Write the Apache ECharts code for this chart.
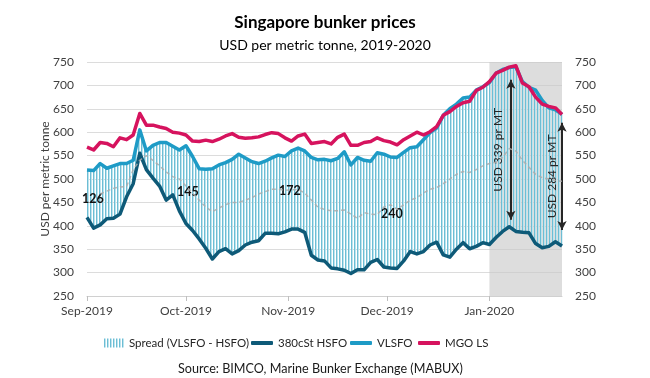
<!DOCTYPE html>
<html>
<head>
<meta charset="utf-8">
<script src="https://cdn.jsdelivr.net/npm/echarts@6/dist/echarts.min.js"></script>
<style>
html,body{margin:0;padding:0;background:#fff;}
#chart{width:650px;height:378px;}
</style>
</head>
<body>
<div id="chart"></div>
<script>
// ---- data ----
const dates = [
 '2019-09-01','2019-09-03','2019-09-05','2019-09-07','2019-09-09','2019-09-11','2019-09-13','2019-09-15','2019-09-17','2019-09-19','2019-09-21','2019-09-23','2019-09-25','2019-09-27','2019-09-29',
 '2019-10-01','2019-10-03','2019-10-05','2019-10-07','2019-10-09','2019-10-11','2019-10-13','2019-10-15','2019-10-17','2019-10-19','2019-10-21','2019-10-23','2019-10-25','2019-10-27','2019-10-29','2019-10-31',
 '2019-11-02','2019-11-04','2019-11-06','2019-11-08','2019-11-10','2019-11-12','2019-11-14','2019-11-16','2019-11-18','2019-11-20','2019-11-22','2019-11-24','2019-11-26','2019-11-28','2019-11-30',
 '2019-12-02','2019-12-04','2019-12-06','2019-12-08','2019-12-10','2019-12-12','2019-12-14','2019-12-16','2019-12-18','2019-12-20','2019-12-22','2019-12-24','2019-12-26','2019-12-28','2019-12-30',
 '2020-01-01','2020-01-03','2020-01-05','2020-01-07','2020-01-09','2020-01-11','2020-01-13','2020-01-15','2020-01-17','2020-01-19','2020-01-21','2020-01-23'
];
const hsfo = [
 418,395,402,415,416,425,462,490,555,520,502,485,455,466,432,
 405,390,372,352,329,345,351,340,347,359,365,368,384,384,383,387,
 393,393,386,337,327,325,310,308,305,298,306,306,322,328,312,
 310,309,325,345,340,345,359,365,338,333,350,364,351,356,364,
 360,375,388,398,388,386,385,362,353,356,366,357
];
const vlsfo = [
 519,518,533,523,528,533,533,540,605,560,572,578,578,570,562,
 571,548,522,521,522,530,535,542,553,545,537,533,538,545,551,548,
 560,566,560,546,541,542,539,544,558,530,546,540,538,556,553,
 547,546,557,567,569,584,599,609,636,650,660,673,675,690,697,
 706,726,734,738,740,708,696,690,668,652,648,638
];
const mgo = [
 568,562,578,576,569,588,584,594,640,615,615,611,608,600,598,
 594,581,580,583,580,585,592,597,589,587,588,590,595,599,597,588,
 581,592,596,576,578,580,575,589,596,572,572,578,580,588,582,
 579,573,584,592,600,594,601,612,636,644,655,663,666,689,696,
 708,726,732,739,742,705,697,675,660,655,652,638
];
const trendDates = dates.slice(2);
const trend = [
 468,474,480,483,484,520,540,550,540,528,515,505,500,
 485,470,455,440,430,438,445,450,450,455,460,468,473,478,478,476,
 477,478,470,455,440,435,432,432,434,425,416,428,425,424,440,
 445,435,445,455,460,470,478,482,490,500,510,516,514,520,528,
 533,536,546,565,560,540,525,510,503,500,497,495
];
const monthTickDates = ['2019-09-01','2019-10-01','2019-11-01','2019-12-01','2020-01-01'];
const monthTickLabels = ['Sep-2019','Oct-2019','Nov-2019','Dec-2019','Jan-2020'];
const spreadLabels = [126, 145, 172, 240];
const arrowLabels = [339, 284];
const yMin = 250, yMax = 750, yStep = 50;

// ---- helpers: x axis measured in days since the first date ----
const START = '2019-09-01', END = '2020-01-23';
function day(s){
  const p = s.split('-').map(Number);
  const q = START.split('-').map(Number);
  return Math.round((Date.UTC(p[0],p[1]-1,p[2]) - Date.UTC(q[0],q[1]-1,q[2]))/86400000);
}
const pair = (xs, ys) => xs.map((x,i)=>[day(x), ys[i]]);
const tickDays = monthTickDates.map(day);
const bandData = dates.map((d,i)=>[day(d), hsfo[i], vlsfo[i]]);

function makePattern(){
  const c = document.createElement('canvas');
  c.width = 3; c.height = 4;
  const ctx = c.getContext('2d');
  ctx.fillStyle = '#6dbdd4'; ctx.fillRect(0,0,1,4);
  ctx.fillStyle = '#bde4ee'; ctx.fillRect(1,0,1,4);
  return {image: c, repeat: 'repeat'};
}
const bandPattern = makePattern();
const legendPattern = makePattern();

const FONT = 'Lato';
const SPREAD = 'Spread (VLSFO - HSFO)';
const legendText = {fontFamily:FONT, fontSize:11.5, color:'#262626'};
const chart = echarts.init(document.getElementById('chart'), null, {renderer:'canvas'});
const option = {
  animation: false,
  textStyle: {fontFamily: FONT},
  title: [
    {text:'Singapore bunker prices', left:'center', top:9, textStyle:{fontFamily:FONT, fontSize:17, fontWeight:'bold', color:'#000'}},
    {text:'USD per metric tonne, 2019-2020', left:'center', top:33, textStyle:{fontFamily:FONT, fontSize:14, fontWeight:'normal', color:'#000'}},
    {text:'Source: BIMCO, Marine Bunker Exchange (MABUX)', left:173, top:357, textStyle:{fontFamily:FONT, fontSize:12.6, fontWeight:'normal', color:'#1a1a1a'}}
  ],
  legend: [
    {data:[{name:SPREAD, icon:'rect', itemStyle:{color:legendPattern}}], left:99, top:332, itemWidth:20, itemHeight:9, textStyle:legendText},
    {data:['380cSt HSFO'], icon:'roundRect', left:246, top:332, itemWidth:22, itemHeight:4, textStyle:legendText},
    {data:['VLSFO'], icon:'roundRect', left:345, top:332, itemWidth:22, itemHeight:4, textStyle:legendText},
    {data:['MGO LS'], icon:'roundRect', left:413, top:332, itemWidth:22, itemHeight:4, textStyle:legendText}
  ],
  grid: {left:87, right:88, top:62, bottom:82},
  xAxis: {
    type:'value', min: 0, max: day(END),
    axisLine:{show:true, lineStyle:{color:'#d0d0d0', width:1}},
    axisTick:{show:true, customValues: tickDays, length:5, lineStyle:{color:'#bfbfbf'}},
    axisLabel:{customValues: tickDays, fontFamily:FONT, fontSize:12, color:'#404040', margin:9,
      formatter: function(v){ const i = tickDays.indexOf(Math.round(v)); return i >= 0 ? monthTickLabels[i] : ''; }},
    splitLine:{show:false}
  },
  yAxis: [
    {type:'value', min:yMin, max:yMax, interval:yStep, position:'left',
     name:'USD per metric tonne', nameLocation:'middle', nameGap:36, nameMoveOverlap:false,
     nameTextStyle:{fontFamily:FONT, fontSize:12, color:'#404040'},
     axisLabel:{fontFamily:FONT, fontSize:12, color:'#404040', margin:13},
     axisLine:{show:false}, axisTick:{show:false},
     splitLine:{show:true, lineStyle:{color:'#dcdcdc', width:1}}},
    {type:'value', min:yMin, max:yMax, interval:yStep, position:'right',
     axisLabel:{fontFamily:FONT, fontSize:12, color:'#404040', margin:13},
     axisLine:{show:false}, axisTick:{show:false}, splitLine:{show:false}}
  ],
  series: [
    {name:SPREAD, type:'custom', data: bandData, silent:true, z:2,
     itemStyle:{color:'#8fcde0'},
     encode:{x:0, y:[1,2]},
     renderItem: function(params, api){
       const i = params.dataIndex;
       if (i >= bandData.length - 1) return null;
       const a = api.coord([api.value(0, i), api.value(2, i)]);
       const b = api.coord([api.value(0, i+1), api.value(2, i+1)]);
       const c = api.coord([api.value(0, i+1), api.value(1, i+1)]);
       const d = api.coord([api.value(0, i), api.value(1, i)]);
       const ov = 0.5;
       return {type:'polygon', shape:{points:[[a[0],a[1]],[b[0]+ov,b[1]],[c[0]+ov,c[1]],[d[0],d[1]]]}, style:{fill: bandPattern}};
     },
     markArea:{silent:true, z:0, itemStyle:{color:'rgba(200,200,200,0.62)'},
       data:[[{xAxis: day('2020-01-01')}, {xAxis: day(END)}]]}},
    {name:'trend', type:'line', data: pair(trendDates, trend), symbol:'none', silent:true,
     lineStyle:{color:'#ababab', width:1.5, type:[4,3], opacity:0.85}, z:7,
     markPoint:{symbol:'circle', symbolSize:0, silent:true,
       label:{show:true, position:'inside', formatter:'{c}', fontFamily:FONT, fontSize:12.5, fontWeight:'bold', color:'#111'},
       data:[
         {coord:[day('2019-09-02')+0.8, 457], value: spreadLabels[0]},
         {coord:[day('2019-10-01')+0.6, 472], value: spreadLabels[1]},
         {coord:[day('2019-11-01')+0.5, 474], value: spreadLabels[2]},
         {coord:[day('2019-12-02')+0.4, 425], value: spreadLabels[3]}
       ]}},
    {name:'380cSt HSFO', type:'line', data: pair(dates, hsfo), symbol:'none',
     lineStyle:{color:'#0e5a78', width:3.5, join:'round'}, itemStyle:{color:'#0e5a78'}, z:4,
     markLine:{silent:true, symbol:['arrow','arrow'], symbolSize:[7,9],
       lineStyle:{color:'#262626', width:2, type:'solid'},
       label:{show:true, position:'insideMiddleTop', formatter:'{b}', fontFamily:FONT, fontSize:12, color:'#262626', distance:6},
       data:[
         [{name:'USD ' + arrowLabels[0] + ' pr MT', coord:[day('2020-01-07')+0.5, 413], label:{distance:7}}, {coord:[day('2020-01-07')+0.5, 712]}],
         [{name:'USD ' + arrowLabels[1] + ' pr MT', coord:[day(END), 391], label:{distance:4}}, {coord:[day(END), 620]}]
       ]}},
    {name:'VLSFO', type:'line', data: pair(dates, vlsfo), symbol:'none',
     lineStyle:{color:'#1e9bc6', width:3.5, join:'round'}, itemStyle:{color:'#1e9bc6'}, z:5},
    {name:'MGO LS', type:'line', data: pair(dates, mgo), symbol:'none',
     lineStyle:{color:'#d6135e', width:3.5, join:'round'}, itemStyle:{color:'#d6135e'}, z:6}
  ]
};
chart.setOption(option);
</script>
</body>
</html>
